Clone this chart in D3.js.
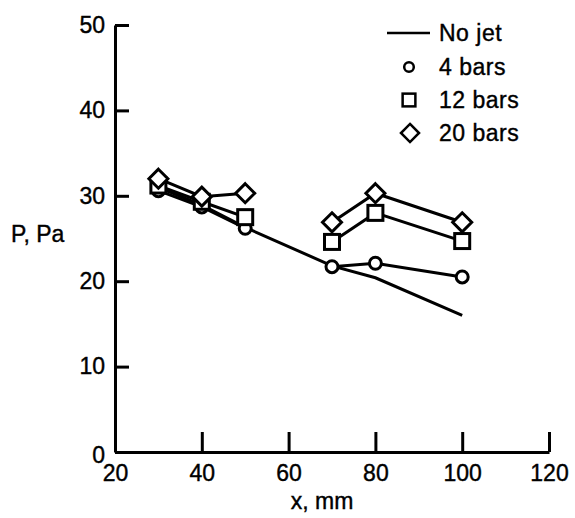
<!DOCTYPE html>
<html>
<head>
<meta charset="utf-8">
<script src="https://cdn.jsdelivr.net/npm/d3@7"></script>
<style>
  body { margin: 0; background: #fff; }
  text { font-family: "Liberation Sans", Arial, sans-serif; fill: #000; stroke: #000; stroke-width: 0.4px; }
</style>
</head>
<body>
<div id="chart"></div>
<script>
// Data
const xPositions = [30, 40, 50, 70, 80, 100];
const noJet = [31.0, 28.9, 26.3, 21.8, 20.4, 16.0];
const bars4 = [30.6, 28.7, 26.2, 21.7, 22.1, 20.5];
const bars12 = [31.2, 29.3, 27.5, 24.6, 28.0, 24.7];
const bars20 = [32.0, 29.9, 30.3, 26.9, 30.3, 26.9];
const xTicks = [20, 40, 60, 80, 100, 120];
const yTicks = [0, 10, 20, 30, 40, 50];
const legendLabels = ["No jet", "4 bars", "12 bars", "20 bars"];

const W = 575, H = 518;
const fontSize = "23px";
const svg = d3.select("#chart").append("svg")
    .attr("width", W)
    .attr("height", H);

const x = d3.scaleLinear().domain([20, 120]).range([115, 549]);
const y = d3.scaleLinear().domain([0, 50]).range([452, 25]);

// Axes (ticks point inward)
const xAxis = svg.append("g")
    .attr("transform", `translate(0,${y(0)})`)
    .call(d3.axisBottom(x).tickValues(xTicks).tickSizeInner(-20).tickSizeOuter(0));
const yAxis = svg.append("g")
    .attr("transform", `translate(${x(20)},0)`)
    .call(d3.axisLeft(y).tickValues(yTicks).tickSizeInner(-14).tickSizeOuter(0));

[xAxis, yAxis].forEach(g => {
    g.select(".domain").attr("stroke", "#000").attr("stroke-width", 3);
    g.selectAll(".tick line").attr("stroke", "#000").attr("stroke-width", 3);
    g.selectAll(".tick text").style("font-size", fontSize).attr("fill", "#000");
});
// the x labels sit below the axis, not under the inward ticks
xAxis.selectAll(".tick text").attr("y", 13).attr("dy", "0.71em");
yAxis.selectAll(".tick text").attr("x", -10);
yAxis.selectAll(".tick").filter(d => d === 0).select("text").attr("dy", "0.45em");

// Axis titles
svg.append("text")
    .attr("x", 322)
    .attr("y", 509)
    .attr("text-anchor", "middle")
    .style("font-size", fontSize)
    .text("x, mm");

svg.append("text")
    .attr("x", 11)
    .attr("y", 242)
    .style("font-size", fontSize)
    .text("P, Pa");

const line = d3.line()
    .x(d => x(d[0]))
    .y(d => y(d[1]));

const pairs = vals => xPositions.map((xv, i) => [xv, vals[i]]);

// No jet line
svg.append("path")
    .datum(pairs(noJet))
    .attr("d", line)
    .attr("fill", "none")
    .attr("stroke", "#000")
    .attr("stroke-width", 3);

// Symbol series: connected within the two groups of stations
const series = [
    { vals: bars4, shape: "circle" },
    { vals: bars12, shape: "square" },
    { vals: bars20, shape: "diamond" }
];

function drawMarker(g, shape, cx, cy, s) {
    if (shape === "circle") {
        g.append("circle").attr("cx", cx).attr("cy", cy).attr("r", 6 * s);
    } else if (shape === "square") {
        const h = 7.5 * s;
        g.append("rect").attr("x", cx - h).attr("y", cy - h).attr("width", 2 * h).attr("height", 2 * h);
    } else {
        const h = 9.5 * s;
        g.append("path").attr("d", `M${cx},${cy - h}L${cx + h},${cy}L${cx},${cy + h}L${cx - h},${cy}Z`);
    }
}

series.forEach(s => {
    const pts = pairs(s.vals);
    [pts.slice(0, 3), pts.slice(3)].forEach(seg => {
        svg.append("path")
            .datum(seg)
            .attr("d", line)
            .attr("fill", "none")
            .attr("stroke", "#000")
            .attr("stroke-width", 3);
    });
});

series.forEach(s => {
    const g = svg.append("g")
        .attr("fill", "#fff")
        .attr("stroke", "#000")
        .attr("stroke-width", 3);
    pairs(s.vals).forEach(p => drawMarker(g, s.shape, x(p[0]), y(p[1]), 1));
});

// Legend
const legendY = [33, 67, 100, 133];
svg.append("line")
    .attr("x1", 387).attr("x2", 430)
    .attr("y1", legendY[0]).attr("y2", legendY[0])
    .attr("stroke", "#000").attr("stroke-width", 2.5);
const lg = svg.append("g").attr("fill", "#fff").attr("stroke", "#000").attr("stroke-width", 2.5);
drawMarker(lg, "circle", 409, legendY[1], 0.8);
drawMarker(lg, "square", 409, legendY[2], 0.85);
drawMarker(lg, "diamond", 410, legendY[3], 0.95);

legendLabels.forEach((t, i) => {
    svg.append("text")
        .attr("x", 439)
        .attr("y", legendY[i])
        .attr("dy", "0.36em")
        .style("font-size", fontSize)
        .style("letter-spacing", "0.5px")
        .text(t);
});
</script>
</body>
</html>
